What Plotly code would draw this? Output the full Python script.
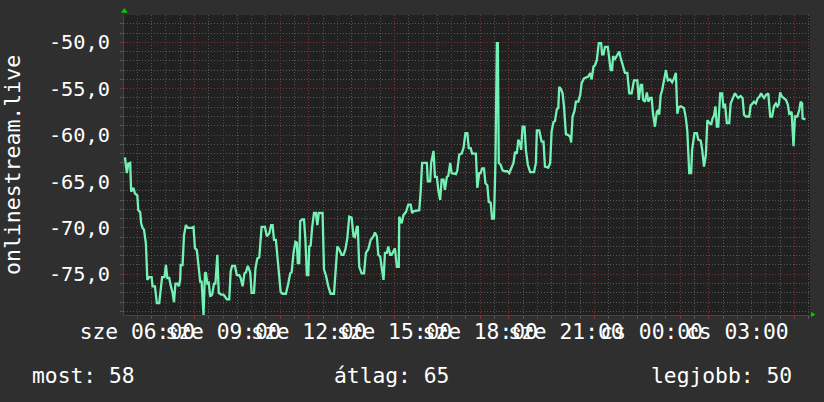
import plotly.graph_objects as go

# ---- data (minutes since Wednesday 00:00, signal value) ----
minutes = [
    334, 338, 341, 345, 347, 352, 355, 360, 362, 366,
    368, 371, 374, 378, 381, 385, 390, 392, 397, 401,
    406, 409, 412, 417, 420, 423, 427, 430, 434, 437,
    440, 444, 447, 450, 451, 455, 458, 462, 466, 471,
    474, 478, 481, 485, 488, 492, 495, 499, 502, 504,
    507, 510, 513, 517, 521, 524, 528, 531, 536, 541,
    544, 548, 553, 556, 559, 565, 569, 574, 577, 581,
    585, 588, 592, 597, 600, 605, 608, 612, 616, 621,
    628, 632, 637, 641, 644, 647, 651, 654, 658, 661,
    665, 672, 677, 681, 684, 688, 692, 695, 697, 700,
    702, 706, 710, 713, 716, 719, 721, 724, 727, 731,
    735, 738, 741, 749, 752, 756, 761, 766, 773, 777,
    780, 784, 789, 793, 797, 801, 805, 810, 814, 817,
    821, 823, 826, 831, 836, 840, 845, 850, 856, 859,
    863, 866, 870, 873, 877, 880, 884, 887, 891, 894,
    898, 901, 905, 909, 910, 915, 919, 924, 929, 934,
    937, 941, 952, 955, 958, 968, 970, 975, 977, 982,
    985, 989, 992, 996, 999, 1003, 1006, 1010, 1013, 1017,
    1020, 1025, 1029, 1032, 1036, 1041, 1045, 1049, 1053, 1056,
    1060, 1063, 1071, 1074, 1078, 1081, 1084, 1088, 1091, 1095,
    1098, 1102, 1105, 1109, 1112, 1115, 1117, 1119, 1123, 1127,
    1132, 1137, 1141, 1145, 1150, 1153, 1157, 1160, 1164, 1166,
    1169, 1173, 1176, 1180, 1185, 1193, 1197, 1199, 1204, 1209,
    1213, 1216, 1223, 1227, 1230, 1234, 1237, 1241, 1244, 1246,
    1250, 1253, 1256, 1260, 1265, 1269, 1271, 1274, 1278, 1281,
    1286, 1290, 1293, 1298, 1304, 1307, 1311, 1314, 1318, 1321,
    1325, 1329, 1334, 1336, 1339, 1342, 1348, 1351, 1354, 1357,
    1359, 1363, 1367, 1369, 1372, 1375, 1379, 1384, 1389, 1393,
    1398, 1403, 1410, 1413, 1417, 1420, 1422, 1426, 1430, 1433,
    1437, 1440, 1443, 1447, 1451, 1454, 1456, 1459, 1462, 1466,
    1470, 1474, 1479, 1483, 1487, 1491, 1494, 1497, 1501, 1505,
    1508, 1512, 1515, 1519, 1523, 1525, 1530, 1535, 1538, 1543,
    1546, 1550, 1554, 1557, 1561, 1565, 1568, 1571, 1574, 1577,
    1580, 1584, 1588, 1591, 1594, 1598, 1603, 1606, 1610, 1615,
    1619, 1622, 1627, 1631, 1634, 1638, 1645, 1648, 1652, 1655,
    1659, 1663, 1666, 1670, 1673, 1676, 1680, 1685, 1689, 1693,
    1697, 1701, 1704, 1707, 1710, 1713, 1717, 1722, 1726, 1729,
    1734, 1738, 1741, 1746, 1750, 1753, 1756, 1757, 1763,
]
values = [
    -62.4, -64.1, -63.1, -63.0, -66.1, -65.7, -66.3, -66.5, -68.1, -68.3,
    -69.5, -70.0, -70.2, -71.7, -75.6, -75.3, -75.3, -76.3, -76.3, -78.1,
    -78.1, -76.5, -75.3, -75.3, -74.0, -75.4, -75.4, -76.2, -77.0, -78.0,
    -76.0, -76.0, -76.3, -75.6, -74.0, -74.0, -70.8, -69.7, -70.0, -70.0,
    -70.0, -69.9, -72.2, -72.4, -74.0, -75.8, -75.8, -79.4, -74.9, -74.8,
    -76.0, -75.9, -77.4, -77.2, -76.0, -76.0, -72.9, -77.0, -77.2, -77.2,
    -77.4, -77.7, -77.7, -74.7, -74.1, -74.1, -75.1, -75.1, -75.4, -76.3,
    -74.9, -74.8, -74.1, -74.8, -77.0, -77.0, -74.4, -73.3, -73.2, -69.9,
    -69.9, -70.9, -70.6, -69.7, -69.7, -71.3, -71.3, -72.9, -74.9, -76.9,
    -77.1, -77.1, -76.0, -74.9, -74.8, -72.7, -71.5, -71.6, -73.8, -73.8,
    -69.3, -69.1, -69.1, -71.3, -75.1, -75.1, -72.0, -71.9, -70.0, -68.4,
    -68.4, -69.7, -68.4, -68.4, -74.5, -75.1, -76.3, -77.1, -77.1, -73.8,
    -72.0, -72.3, -72.9, -72.9, -72.3, -71.1, -68.8, -68.9, -70.9, -71.0,
    -69.9, -69.9, -74.2, -74.9, -74.9, -72.7, -72.3, -71.3, -70.9, -70.5,
    -70.9, -72.9, -73.1, -74.2, -75.6, -72.7, -72.7, -72.0, -72.9, -72.9,
    -72.5, -72.2, -74.2, -74.2, -68.8, -69.5, -68.6, -68.3, -67.5, -67.5,
    -68.4, -68.2, -68.1, -66.1, -63.0, -63.0, -65.0, -65.0, -63.0, -61.7,
    -64.5, -64.5, -65.9, -67.0, -64.8, -64.8, -65.9, -64.5, -64.4, -63.0,
    -64.1, -64.2, -64.2, -63.8, -62.1, -62.0, -61.4, -59.8, -59.8, -61.4,
    -61.4, -62.0, -62.0, -65.7, -64.1, -64.1, -63.6, -63.6, -65.2, -65.4,
    -67.2, -67.3, -69.0, -69.0, -63.0, -50.1, -50.1, -63.0, -63.2, -63.8,
    -63.9, -63.9, -64.1, -63.6, -63.0, -61.8, -62.0, -60.5, -61.0, -61.6,
    -59.1, -59.1, -61.6, -63.2, -64.0, -64.0, -63.0, -59.5, -59.5, -60.7,
    -60.7, -63.4, -63.5, -63.0, -59.6, -58.6, -58.5, -57.2, -57.1, -54.8,
    -55.1, -55.5, -56.9, -59.9, -60.0, -60.2, -60.8, -58.0, -57.4, -56.4,
    -56.4, -55.7, -54.4, -53.9, -53.8, -53.7, -53.3, -54.0, -52.6, -52.5,
    -51.9, -50.1, -50.1, -51.3, -51.3, -50.5, -50.5, -51.7, -53.0, -53.0,
    -51.5, -51.8, -51.4, -51.3, -51.0, -51.7, -52.3, -53.3, -53.3, -55.5,
    -55.5, -54.1, -54.1, -56.2, -54.6, -54.6, -56.2, -56.4, -55.4, -56.4,
    -56.0, -56.0, -57.7, -59.1, -57.5, -57.3, -57.8, -55.7, -55.2, -54.1,
    -53.0, -54.1, -54.0, -54.3, -53.9, -53.3, -57.7, -57.0, -56.9, -57.0,
    -57.1, -58.2, -59.6, -64.1, -64.1, -61.6, -59.8, -59.8, -60.5, -60.6,
    -61.5, -63.4, -62.1, -58.4, -58.6, -58.9, -58.2, -57.9, -56.9, -59.1,
    -59.1, -55.5, -55.5, -57.1, -56.6, -58.7, -58.7, -56.6, -56.1, -55.5,
    -55.8, -56.0, -55.8, -56.0, -57.8, -58.0, -58.0, -56.8, -56.6, -56.4,
    -56.6, -56.0, -55.9, -55.5, -55.8, -56.0, -55.7, -55.5, -58.0, -58.0,
    -56.9, -56.6, -56.9, -56.7, -55.4, -55.8, -56.0, -56.2, -56.7, -57.7,
    -57.5, -61.2, -58.0, -58.0, -57.3, -56.4, -56.6, -58.2, -58.3,
]

hour_ticks = [h * 60 for h in range(6, 30)]
label_minutes = [360, 540, 720, 900, 1080, 1260, 1440, 1620]
label_texts = ["sze 06:00", "sze 09:00", "sze 12:00", "sze 15:00",
               "sze 18:00", "sze 21:00", "cs 00:00", "cs 03:00"]
y_ticks = [-75, -70, -65, -60, -55, -50]
y_labels = ["-75,0", "-70,0", "-65,0", "-60,0", "-55,0", "-50,0"]
series_name = "onlinestream.live"
stat_texts = ["most: 58", "átlag: 65", "legjobb: 50"]

x_range = [332, 1772.6]
y_range = [-79.39, -47.06]

label_map = dict(zip(label_minutes, label_texts))
x_ticktext = [label_map.get(m, "") for m in hour_ticks]

FONT = "DejaVu Sans Mono"
PAPER = "#2f2f2f"
PLOT = "#212121"
MAJOR = "#7e3434"
MINOR = "#575757"

fig = go.Figure()
fig.add_trace(go.Scatter(
    x=minutes, y=values, mode="lines",
    line=dict(color="#74f2b6", width=2.3),
    hoverinfo="skip", showlegend=False,
))

fig.update_layout(
    width=824, height=402,
    margin=dict(l=124, r=14, t=15, b=87),
    paper_bgcolor=PAPER, plot_bgcolor=PLOT,
    font=dict(family=FONT, color="#ffffff", size=20),
    showlegend=False,
)

fig.update_xaxes(
    range=x_range, tickmode="array", tickvals=hour_ticks, ticktext=x_ticktext,
    tickangle=0, showgrid=True, gridcolor=MAJOR, griddash="1px,2px", gridwidth=1,
    ticks="outside", ticklen=3, tickcolor=MAJOR, tickwidth=1,
    tickfont=dict(family=FONT, size=21.3, color="#ffffff"),
    ticklabelstandoff=-6,
    showline=True, linecolor="#444444", linewidth=1,
    zeroline=False, automargin=False,
    minor=dict(tickmode="linear", tick0=0, dtick=30, showgrid=True,
               gridcolor=MINOR, griddash="1px,2px", gridwidth=1,
               ticks="outside", ticklen=3, tickcolor=MINOR),
)
fig.update_yaxes(
    range=y_range, tickmode="array", tickvals=y_ticks, ticktext=y_labels,
    showgrid=True, gridcolor=MAJOR, griddash="1px,2px", gridwidth=1,
    ticks="outside", ticklen=3, tickcolor=MAJOR, tickwidth=1,
    tickfont=dict(family=FONT, size=20.3, color="#ffffff"),
    ticklabelstandoff=6,
    showline=True, linecolor="#444444", linewidth=1,
    zeroline=False, automargin=False,
    minor=dict(tickmode="linear", tick0=0, dtick=1, showgrid=True,
               gridcolor=MINOR, griddash="1px,2px", gridwidth=1,
               ticks="outside", ticklen=3, tickcolor=MINOR),
)

# axis title (rotated) and stats line
fig.add_annotation(text=series_name, xref="paper", yref="paper",
                   x=-0.1633, y=0.5, textangle=-90, showarrow=False,
                   xanchor="center", yanchor="middle",
                   font=dict(family=FONT, size=21.5, color="#ffffff"))
stat_pos = [(-0.1371, "left"), (0.3032, "left"), (0.9767, "right")]
for txt, (px, anc) in zip(stat_texts, stat_pos):
    fig.add_annotation(text=txt, xref="paper", yref="paper", x=px, y=-0.2,
                       xanchor=anc, yanchor="middle", showarrow=False,
                       font=dict(family=FONT, size=21.3, color="#ffffff"))

# green arrow heads at the axis ends
fig.add_shape(type="path", xref="paper", yref="paper",
              path="M -0.0045,1.0077 L 0.0055,1.0077 L 0.0005,1.0233 Z",
              fillcolor="#00cc00", line=dict(width=0))
fig.add_shape(type="path", xref="paper", yref="paper",
              path="M 1.0015,0.0100 L 1.0015,-0.0067 L 1.0080,0.0017 Z",
              fillcolor="#00cc00", line=dict(width=0))

fig.write_html(
    "out.html",
    config={"displayModeBar": False, "staticPlot": True},
    post_script="document.body.style.margin='0';"
                "document.body.style.background='#2f2f2f';",
)
